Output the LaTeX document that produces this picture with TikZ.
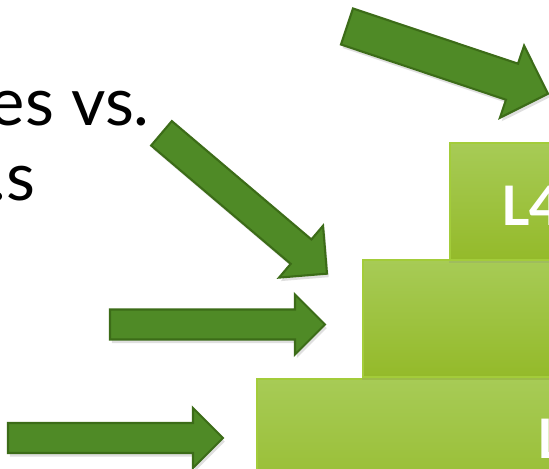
\documentclass[tikz,border=0pt]{standalone}
\usepackage{fontspec}
\setmainfont{Lato}
\usetikzlibrary{shadows}

\definecolor{arrowfill}{RGB}{79,138,38}
\definecolor{arrowline}{RGB}{60,108,24}
\definecolor{boxtop}{RGB}{167,203,86}
\definecolor{boxbot}{RGB}{148,186,42}
\definecolor{boxline}{RGB}{163,204,58}

% block arrow: tail, angle, length, shaft half width, head half width, head length
\newcommand{\blockarrow}[6]{%
  \begin{scope}[shift={(#1)},rotate=#2]
    \draw[greenarrow] (0,-#4) -- ({#3-#6},-#4) -- ({#3-#6},-#5) -- (#3,0)
      -- ({#3-#6},#5) -- ({#3-#6},#4) -- (0,#4) -- cycle;
  \end{scope}}

\begin{document}
\begin{tikzpicture}[x=0.02cm,y=0.02cm,
    greenarrow/.style={fill=arrowfill,draw=arrowline,line width=1.2pt,line join=miter,
      drop shadow={opacity=0.25,shadow xshift=1pt,shadow yshift=-2pt}},
    levelbox/.style={top color=boxtop,bottom color=boxbot,draw=boxline,line width=1.2pt,
      drop shadow={opacity=0.2,shadow xshift=-0.5pt,shadow yshift=-1.5pt}},
    heading/.style={font=\fontsize{38}{40}\selectfont,text=black,inner sep=0pt},
    levellabel/.style={font=\fontsize{31}{34}\selectfont\bfseries,text=white,inner sep=0pt}]
    % frame
    \useasboundingbox (0,0) rectangle (549,-468);
    \clip (0,0) rectangle (549,-468);
    \fill[white] (0,0) rectangle (549,-468);

    % title fragments
    \node[heading,anchor=base east] (line1) at (150,-125) {es vs.};
    \node[heading,anchor=base east] (line2) at (36,-200) {.s};

    % level boxes, lowest first
    \shade[levelbox] (257,-379) rectangle (780,-520);
    \shade[levelbox] (363,-260) rectangle (700,-377);
    \shade[levelbox] (450,-143) rectangle (620,-260);
    \node[levellabel,anchor=base west] (l4) at (501,-225) {L4};
    \node[levellabel,anchor=base west] (l1) at (537,-458) {L};

    % arrow tails
    \coordinate (t1) at (347,-26.5);
    \coordinate (t2) at (161.5,-133.3);
    \coordinate (t3) at (110,-324.5);
    \coordinate (t4) at (8,-438);

    % arrows
    \blockarrow{t1}{-18.5}{212}{19}{38}{38}
    \blockarrow{t2}{-40.3}{217}{16}{34}{34}
    \blockarrow{t3}{0}{215}{15}{30}{30}
    \blockarrow{t4}{0}{215}{15}{30}{30}
\end{tikzpicture}
\end{document}
